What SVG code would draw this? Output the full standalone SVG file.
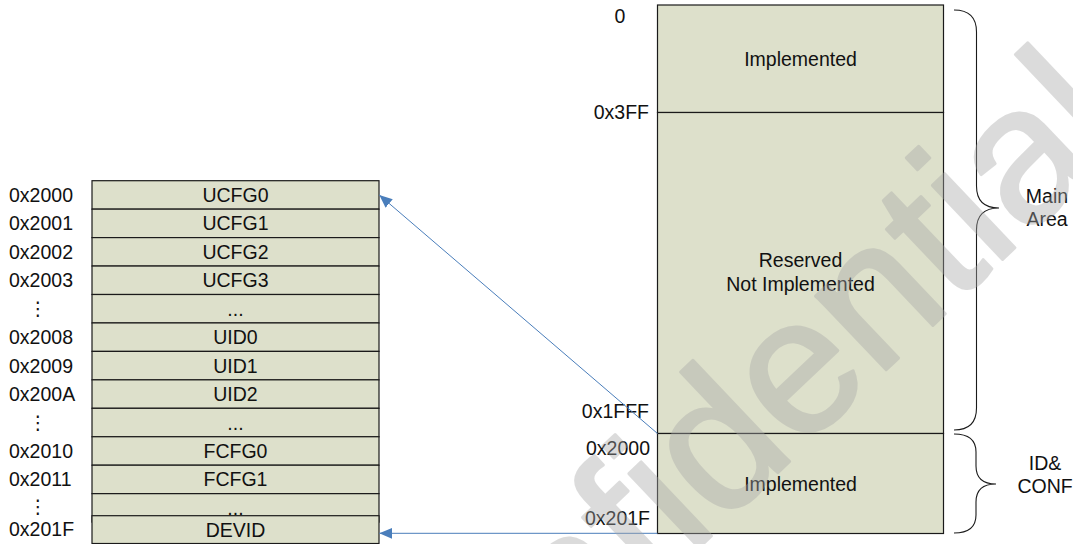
<svg xmlns="http://www.w3.org/2000/svg" width="1073" height="544" viewBox="0 0 1073 544">
<style>
.cell{fill:#dde0cb;stroke:#1a1a1a;stroke-width:1.2}
.t{font-family:"Liberation Sans",Arial,sans-serif;font-size:19.5px;fill:#111}
.c{text-anchor:middle}
.e{text-anchor:end}
.v{font-family:"DejaVu Sans","Liberation Sans",sans-serif;font-size:19px;fill:#111;text-anchor:middle}
.conn{stroke:#4a7ebb;stroke-width:1;fill:none}
.brace{stroke:#1a1a1a;stroke-width:1.1;fill:none}
.wm{font-family:"Liberation Sans",Arial,sans-serif;font-size:193px;fill:#a8a8a8;stroke:#a8a8a8;stroke-width:3;stroke-linejoin:round;opacity:0.4}
</style>
<defs>
<marker id="arr" markerUnits="userSpaceOnUse" markerWidth="16" markerHeight="14" viewBox="0 -7 16 14" refX="13" refY="0" orient="auto">
<path d="M0,-5.5 L13,0 L0,5.5 z" fill="#4a7ebb"/>
</marker>
</defs>
<g id="table">
<g id="row-ucfg0"><rect class="cell" x="92" y="180.7" width="287" height="28.45"/><text class="t c" x="235.5" y="201.9">UCFG0</text><text class="t" x="9" y="201.9">0x2000</text></g>
<g id="row-ucfg1"><rect class="cell" x="92" y="209.15" width="287" height="28.45"/><text class="t c" x="235.5" y="230.4">UCFG1</text><text class="t" x="9" y="230.4">0x2001</text></g>
<g id="row-ucfg2"><rect class="cell" x="92" y="237.6" width="287" height="28.45"/><text class="t c" x="235.5" y="258.8">UCFG2</text><text class="t" x="9" y="258.8">0x2002</text></g>
<g id="row-ucfg3"><rect class="cell" x="92" y="266.05" width="287" height="28.45"/><text class="t c" x="235.5" y="287.3">UCFG3</text><text class="t" x="9" y="287.3">0x2003</text></g>
<g id="row-gap1"><rect class="cell" x="92" y="294.5" width="287" height="28.45"/><text class="t c" x="235.5" y="315.7">...</text><text class="v" x="38" y="315">⋮</text></g>
<g id="row-uid0"><rect class="cell" x="92" y="322.95" width="287" height="28.45"/><text class="t c" x="235.5" y="344.2">UID0</text><text class="t" x="9" y="344.2">0x2008</text></g>
<g id="row-uid1"><rect class="cell" x="92" y="351.4" width="287" height="28.45"/><text class="t c" x="235.5" y="372.6">UID1</text><text class="t" x="9" y="372.6">0x2009</text></g>
<g id="row-uid2"><rect class="cell" x="92" y="379.85" width="287" height="28.45"/><text class="t c" x="235.5" y="401.1">UID2</text><text class="t" x="9" y="401.1">0x200A</text></g>
<g id="row-gap2"><rect class="cell" x="92" y="408.3" width="287" height="28.45"/><text class="t c" x="235.5" y="429.5">...</text><text class="v" x="38" y="429">⋮</text></g>
<g id="row-fcfg0"><rect class="cell" x="92" y="436.75" width="287" height="28.45"/><text class="t c" x="235.5" y="458">FCFG0</text><text class="t" x="9" y="458">0x2010</text></g>
<g id="row-fcfg1"><rect class="cell" x="92" y="465.2" width="287" height="28.45"/><text class="t c" x="235.5" y="486.4">FCFG1</text><text class="t" x="9" y="486.4">0x2011</text></g>
<g id="row-gap3"><rect class="cell" x="92" y="493.65" width="287" height="28.45"/><text class="t c" x="235.5" y="515">...</text><text class="v" x="38" y="513">⋮</text></g>
<g id="row-devid"><rect class="cell" x="92" y="515.7" width="287" height="27.8"/><text class="t c" x="235.5" y="536.5">DEVID</text><text class="t" x="9" y="535.5">0x201F</text></g>
</g>
<g id="memmap">
<g id="main-impl"><rect class="cell" x="657.5" y="5" width="286" height="107.5"/><text class="t c" x="800.5" y="65.5">Implemented</text></g>
<g id="main-reserved"><rect class="cell" x="657.5" y="112.5" width="286" height="321"/><text class="t c" x="800.5" y="267">Reserved</text><text class="t c" x="800.5" y="291">Not Implemented</text></g>
<g id="idconf-impl"><rect class="cell" x="657.5" y="433.5" width="286" height="100"/><text class="t c" x="800.5" y="490.5">Implemented</text></g>
<g id="addr-labels">
<text class="t c" x="620" y="22.7">0</text>
<text class="t e" x="649" y="119">0x3FF</text>
<text class="t e" x="649" y="418.3">0x1FFF</text>
<text class="t e" x="650" y="455">0x2000</text>
<text class="t e" x="650" y="525">0x201F</text>
</g>
</g>
<g id="brace-main"><path class="brace" d="M954,10 Q976.5,10 976.5,32 L976.5,186 Q976.5,208 999,208 Q976.5,208 976.5,230 L976.5,408 Q976.5,430 954,430"/><text class="t c" x="1047" y="203">Main</text><text class="t c" x="1047" y="226">Area</text></g>
<g id="brace-idconf"><path class="brace" d="M954,434 Q976,434 976,452 L976,466 Q976,484 996,484 Q976,484 976,502 L976,515 Q976,533 954,533"/><text class="t c" x="1045" y="470">ID&amp;</text><text class="t c" x="1045" y="493">CONF</text></g>
<g id="connectors">
<line class="conn" x1="657.5" y1="433.5" x2="379.3" y2="195" marker-end="url(#arr)"/>
<line class="conn" x1="657.5" y1="533.3" x2="379.3" y2="533.3" marker-end="url(#arr)"/>
</g>
<text class="wm" transform="translate(394,837) rotate(-43.5)">Confidential</text>
</svg>
